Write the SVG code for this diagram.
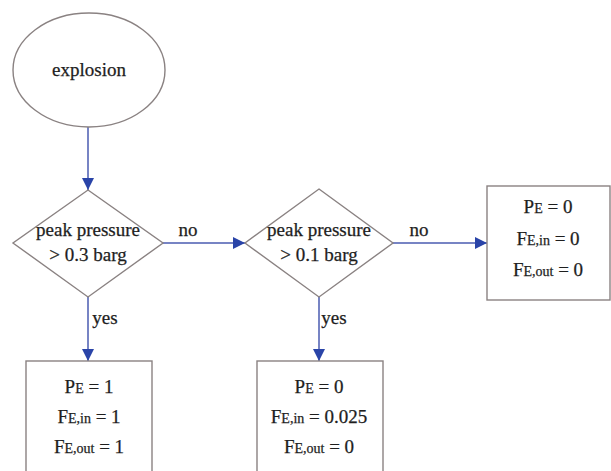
<svg xmlns="http://www.w3.org/2000/svg" width="611" height="471" viewBox="0 0 611 471">
<style>
.node{fill:#fff;stroke:#8a8282;stroke-width:1.4}
.edge{stroke:#4a5bb0;stroke-width:1.5;fill:none}
.t{font-family:"Liberation Serif","Times New Roman",serif;font-size:19px;fill:#1e1e1e;stroke:#1e1e1e;stroke-width:0.25;text-anchor:middle}
.s{font-size:14px}
</style>
<defs>
<marker id="ah" viewBox="0 0 12 12" refX="12" refY="6" markerWidth="12" markerHeight="12" markerUnits="userSpaceOnUse" orient="auto">
<path d="M0,0 L12,6 L0,12 z" fill="#2a44a8"/>
</marker>
</defs>
<rect width="611" height="471" fill="#fff"/>
<g id="connectors">
<line class="edge" x1="88" y1="127" x2="88" y2="190" marker-end="url(#ah)"/>
<line class="edge" x1="163" y1="243" x2="245" y2="243" marker-end="url(#ah)"/>
<line class="edge" x1="393" y1="243" x2="487" y2="243" marker-end="url(#ah)"/>
<line class="edge" x1="88" y1="297" x2="88" y2="361" marker-end="url(#ah)"/>
<line class="edge" x1="319" y1="297" x2="319" y2="361" marker-end="url(#ah)"/>
<text class="t" x="188" y="236">no</text>
<text class="t" x="419" y="236">no</text>
<text class="t" x="105" y="324">yes</text>
<text class="t" x="334" y="324">yes</text>
</g>
<g id="explosion">
<ellipse class="node" cx="89" cy="70" rx="76" ry="57"/>
<text class="t" x="89" y="76">explosion</text>
</g>
<g id="d1">
<polygon class="node" points="88,190 163,243 88,297 13,243"/>
<text class="t" x="88" y="236">peak pressure</text>
<text class="t" x="88" y="261">&gt; 0.3 barg</text>
</g>
<g id="d2">
<polygon class="node" points="319,189 393,243 319,297 245,243"/>
<text class="t" x="319" y="236">peak pressure</text>
<text class="t" x="319" y="261">&gt; 0.1 barg</text>
</g>
<g id="r3">
<rect class="node" x="487" y="186" width="123" height="114"/>
<text class="t" x="548" y="213">P<tspan class="s">E</tspan> = 0</text>
<text class="t" x="548" y="245">F<tspan class="s">E,in</tspan> = 0</text>
<text class="t" x="548" y="276">F<tspan class="s">E,out</tspan> = 0</text>
</g>
<g id="r1">
<rect class="node" x="26" y="361" width="126" height="120"/>
<text class="t" x="89" y="393">P<tspan class="s">E</tspan> = 1</text>
<text class="t" x="89" y="423">F<tspan class="s">E,in</tspan> = 1</text>
<text class="t" x="89" y="453">F<tspan class="s">E,out</tspan> = 1</text>
</g>
<g id="r2">
<rect class="node" x="257" y="361" width="126" height="120"/>
<text class="t" x="319" y="393">P<tspan class="s">E</tspan> = 0</text>
<text class="t" x="319" y="423">F<tspan class="s">E,in</tspan> = 0.025</text>
<text class="t" x="319" y="453">F<tspan class="s">E,out</tspan> = 0</text>
</g>
</svg>
